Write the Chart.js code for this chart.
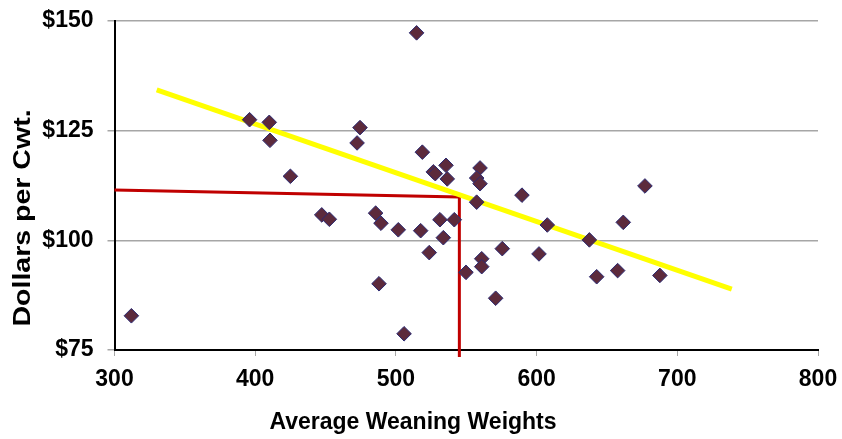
<!doctype html>
<html>
<head>
    <title>Weaning Weights vs Price</title>
    <script src="https://cdn.jsdelivr.net/npm/chart.js@4.4.1/dist/chart.umd.min.js"></script>
    <style>
        html, body {
            margin: 0;
            padding: 0;
            background: #fff;
        }
        .chart-con {
            width: 842px;
            height: 439px;
        }
    </style>
</head>
<body>
<div class="chart-con">
    <canvas id="chart-area" width="842" height="439"></canvas>
</div>
<script>
    // average weaning weight (lbs) of each sale lot
    var weights = [312, 396, 410, 410.5, 425, 474.5, 472.4, 514.7, 518.8, 526.6,
        528, 535.6, 536.5, 559.8, 557.4, 559.8, 589.6, 557.4, 677, 447.3,
        452.7, 485.6, 489.4, 501.7, 517.6, 531.3, 541.5, 533.7, 523.7, 488,
        505.8, 549.8, 561, 561, 570.9, 575.6, 607.6, 601.7, 637.5, 642.7,
        657.6, 661.6, 687.6];
    // price received, dollars per cwt.
    var prices = [82.8, 127.5, 126.9, 122.8, 114.6, 125.7, 122.2, 147.3, 120.1, 115.6,
        115.2, 117.1, 114.0, 116.5, 114.2, 112.9, 110.3, 108.7, 112.4, 105.8,
        104.8, 106.2, 103.9, 102.4, 102.2, 104.7, 104.7, 100.6, 97.2, 90.1,
        78.7, 92.7, 95.8, 94.0, 86.8, 98.1, 103.5, 96.9, 100.1, 91.7,
        93.1, 104.1, 92.0];

    // fitted trend line end points
    var trendX = [330, 738.7];
    var trendY = [134.3, 88.9];

    // read-off guide: across from the price axis, then down to the weight axis
    var guideX = [300, 545.1, 545.1];
    var guideY = [111.5, 109.9, 73.4];

    var xTicks = [300, 400, 500, 600, 700, 800];
    var yTicks = [75, 100, 125, 150];

    function toPoints(xs, ys) {
        return xs.map(function(x, i) { return {x: x, y: ys[i]}; });
    }

    var fontFamily = '"Liberation Sans", Arial, sans-serif';
    var tickFont = {family: fontFamily, size: 23, weight: 'bold'};

    // axis titles: the x title sits centred under the whole figure,
    // the rotated y title is stretched a little along its length
    var axisTitles = {
        id: 'axisTitles',
        afterDraw: function(chart) {
            var ctx = chart.ctx;
            ctx.save();
            ctx.font = 'bold 23px ' + fontFamily;
            ctx.fillStyle = '#000';
            ctx.textAlign = 'center';
            ctx.textBaseline = 'middle';
            ctx.fillText('Average Weaning Weights', 413, 423);

            ctx.translate(24, 218);
            ctx.rotate(-Math.PI / 2);
            ctx.scale(1.24, 1);
            ctx.fillText('Dollars per Cwt.', 0, 0);
            ctx.restore();
        }
    };

    var config = {
        type: 'scatter',
        data: {
            datasets: [{
                label: 'Guide',
                type: 'line',
                data: toPoints(guideX, guideY),
                borderColor: '#c00000',
                borderWidth: 3,
                pointRadius: 0,
                fill: false,
                tension: 0,
                clip: false,
                order: 2
            }, {
                label: 'Trend',
                type: 'line',
                data: toPoints(trendX, trendY),
                borderColor: '#ffff00',
                borderWidth: 5,
                pointRadius: 0,
                fill: false,
                tension: 0,
                order: 1
            }, {
                label: 'Lots',
                data: toPoints(weights, prices),
                pointStyle: 'rectRot',
                pointRadius: 7.3,
                pointHoverRadius: 7.3,
                backgroundColor: '#5c2a3c',
                borderColor: '#2b2a72',
                borderWidth: 1,
                order: 0
            }]
        },
        options: {
            responsive: false,
            animation: false,
            events: [],
            layout: {
                padding: {left: 0, right: 24, top: 21, bottom: 0}
            },
            plugins: {
                legend: {display: false},
                tooltip: {enabled: false}
            },
            scales: {
                x: {
                    type: 'linear',
                    min: 300,
                    max: 800,
                    afterBuildTicks: function(scale) {
                        scale.ticks = xTicks.map(function(v) { return {value: v}; });
                    },
                    afterFit: function(scale) {
                        scale.height = 89;
                        scale.paddingLeft = 0;
                        scale.paddingRight = 0;
                    },
                    border: {color: '#000', width: 2},
                    grid: {
                        drawOnChartArea: false,
                        drawTicks: true,
                        tickLength: 6,
                        color: '#a6a6a6'
                    },
                    ticks: {
                        color: '#000',
                        font: tickFont,
                        padding: 10,
                        maxRotation: 0
                    }
                },
                y: {
                    type: 'linear',
                    min: 75,
                    max: 150,
                    afterBuildTicks: function(scale) {
                        scale.ticks = yTicks.map(function(v) { return {value: v}; });
                    },
                    afterFit: function(scale) {
                        scale.width = 114.5;
                        scale.paddingTop = 0;
                        scale.paddingBottom = 0;
                    },
                    border: {color: '#000', width: 2},
                    grid: {
                        drawTicks: true,
                        tickLength: 7,
                        color: '#a6a6a6',
                        lineWidth: 1.5
                    },
                    ticks: {
                        color: '#000',
                        font: tickFont,
                        padding: 14,
                        callback: function(v) { return '$' + v; }
                    }
                }
            }
        },
        plugins: [axisTitles]
    };

    window.onload = function() {
        var ctx = document.getElementById('chart-area').getContext('2d');
        window.myScatter = new Chart(ctx, config);
    };
</script>
</body>
</html>
